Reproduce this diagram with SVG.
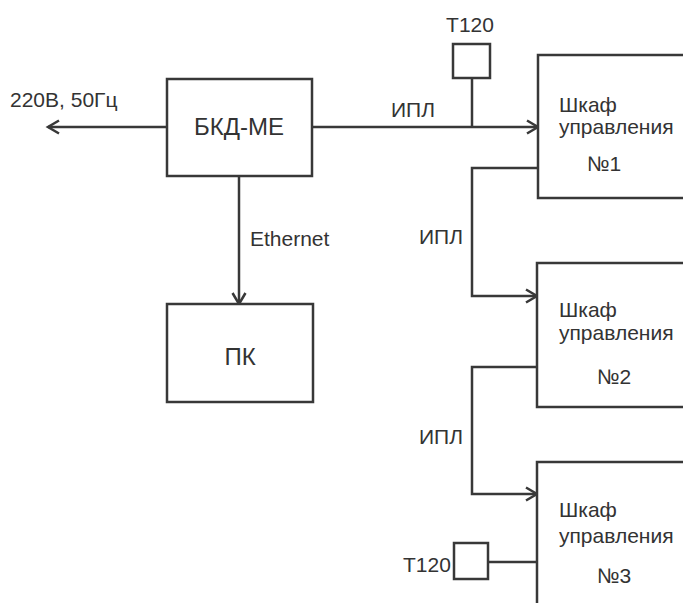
<svg xmlns="http://www.w3.org/2000/svg" width="683" height="603" viewBox="0 0 683 603">
<defs>
<style>
.box{fill:#fff;stroke:#383838;stroke-width:2.5}
.ln{fill:none;stroke:#383838;stroke-width:2.5}
.t{font-family:"Liberation Sans",Arial,sans-serif;fill:#333;font-size:21px}
.tb{font-family:"Liberation Sans",Arial,sans-serif;fill:#333;font-size:24px;text-anchor:middle}
</style>
<marker id="arr" markerWidth="16" markerHeight="16" refX="13" refY="8" orient="auto" markerUnits="userSpaceOnUse">
<path d="M2,1.5 L13,8 L2,14.5" fill="none" stroke="#383838" stroke-width="2.5"/>
</marker>
</defs>
<rect width="683" height="603" fill="#fff"/>
<g id="connectors">
<line class="ln" x1="167" y1="127" x2="48" y2="127" marker-end="url(#arr)"/>
<line class="ln" x1="312" y1="127" x2="538" y2="127" marker-end="url(#arr)"/>
<line class="ln" x1="472" y1="78" x2="472" y2="127"/>
<line class="ln" x1="239" y1="176" x2="239" y2="304" marker-end="url(#arr)"/>
<polyline class="ln" points="538,168 472,168 472,296 537,296" marker-end="url(#arr)"/>
<polyline class="ln" points="537,367 472,367 472,494 537,494" marker-end="url(#arr)"/>
<line class="ln" x1="488" y1="562" x2="537" y2="562"/>
<text class="t" x="10" y="107">220В, 50Гц</text>
<text class="t" x="391" y="117">ИПЛ</text>
<text class="t" x="250" y="246">Ethernet</text>
<text class="t" x="419" y="244">ИПЛ</text>
<text class="t" x="419" y="444">ИПЛ</text>
</g>
<g id="bkd">
<rect class="box" x="167" y="79" width="145" height="97"/>
<text class="tb" x="239" y="135">БКД-МЕ</text>
</g>
<g id="pk">
<rect class="box" x="167" y="304" width="146" height="98"/>
<text class="tb" x="240" y="365">ПК</text>
</g>
<g id="t120top">
<rect class="box" x="453" y="44" width="37" height="34"/>
<text class="t" x="470" y="32" text-anchor="middle">Т120</text>
</g>
<g id="t120bottom">
<rect class="box" x="454" y="543" width="34" height="36"/>
<text class="t" x="403" y="572">Т120</text>
</g>
<g id="cab1">
<rect class="box" x="538" y="55" width="160" height="143"/>
<text class="t" x="559" y="112">Шкаф</text>
<text class="t" x="559" y="134">управления</text>
<text class="t" x="587" y="171">№1</text>
</g>
<g id="cab2">
<rect class="box" x="537" y="263" width="160" height="144"/>
<text class="t" x="559" y="317">Шкаф</text>
<text class="t" x="559" y="340">управления</text>
<text class="t" x="597" y="384">№2</text>
</g>
<g id="cab3">
<rect class="box" x="537" y="462" width="160" height="160"/>
<text class="t" x="559" y="517">Шкаф</text>
<text class="t" x="559" y="543">управления</text>
<text class="t" x="597" y="583">№3</text>
</g>
</svg>
